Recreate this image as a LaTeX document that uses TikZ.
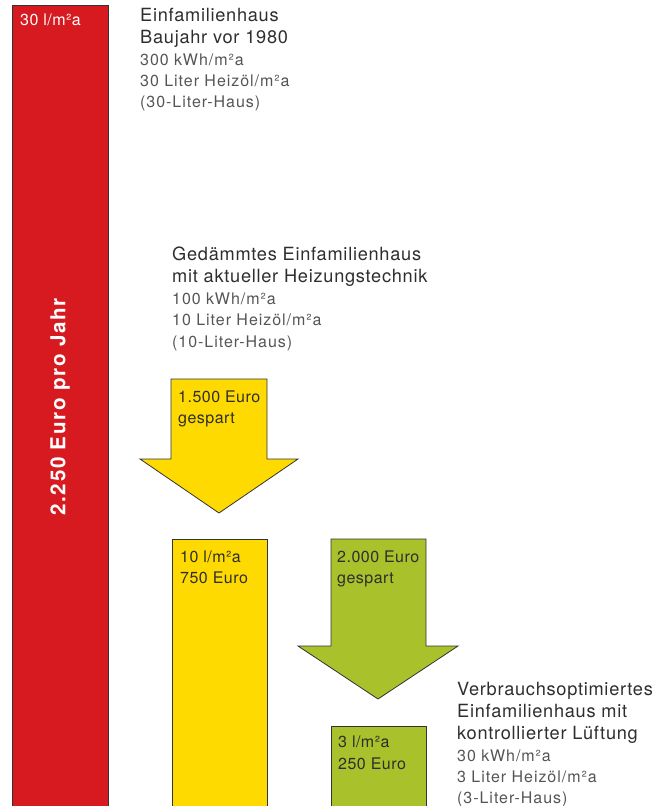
\documentclass[tikz,border=0pt]{standalone}
\usepackage{fontspec}
\setmainfont{TeX Gyre Heros}
\newfontfamily\titlefont[LetterSpace=4]{TeX Gyre Heros}
\newfontfamily\detailfont[LetterSpace=6]{TeX Gyre Heros}
\newfontfamily\labelfont[LetterSpace=3]{TeX Gyre Heros}
\newfontfamily\boldfont[LetterSpace=8]{TeX Gyre Heros}
\definecolor{barred}{HTML}{D71920}
\definecolor{baryellow}{HTML}{FFDA00}
\definecolor{bargreen}{HTML}{A9C22C}
\definecolor{edge}{HTML}{333333}
\definecolor{titlegray}{HTML}{2E2E2E}
\definecolor{detailgray}{HTML}{555555}
\tikzset{
  barbox/.style={draw=edge, line width=0.8pt},
  titletext/.style={anchor=base west, inner sep=0pt, text=titlegray, font=\titlefont\fontsize{18.2}{21}\selectfont},
  detailtext/.style={anchor=base west, inner sep=0pt, text=detailgray, font=\detailfont\fontsize{16}{19}\selectfont},
  labeltext/.style={anchor=base west, inner sep=0pt, text=titlegray, font=\labelfont\fontsize{16}{19}\selectfont},
}
\begin{document}
\begin{tikzpicture}[x=1pt,y=-1pt]
\useasboundingbox (0,0) rectangle (657,806);
\clip (0,0) rectangle (657,806);
% bars
\fill[barred] (12,5) rectangle (108,812);
\draw[barbox] (12,812) -- (12,5) -- (108,5) -- (108,812);
\fill[baryellow] (172,539) rectangle (267,812);
\draw[barbox] (172,812) -- (172,539) -- (267,539) -- (267,812);
\fill[bargreen] (331,726) rectangle (426,812);
\draw[barbox] (331,812) -- (331,726) -- (426,726) -- (426,812);
% arrows
\draw[barbox, fill=baryellow] (171,379) -- (267,379) -- (267,459) -- (298,459) -- (219,513) -- (140,459) -- (171,459) -- cycle;
\draw[barbox, fill=bargreen] (331,539) -- (426,539) -- (426,646) -- (458,646) -- (378,699) -- (298,646) -- (331,646) -- cycle;
% bar labels
\node[labeltext, text=white] (lred) at (20,25) {30 l/m²a};
\node[rotate=90, inner sep=0pt, text=white, font=\boldfont\bfseries\fontsize{20.6}{23}\selectfont] (lyear) at (60,407) {2.250 Euro pro Jahr};
\node[labeltext] (ly1) at (178,402) {1.500 Euro};
\node[labeltext] (ly2) at (178,423) {gespart};
\node[labeltext] (lb1) at (180,562) {10 l/m²a};
\node[labeltext] (lb2) at (180,583) {750 Euro};
\node[labeltext] (lg1) at (337,562) {2.000 Euro};
\node[labeltext] (lg2) at (337,583) {gespart};
\node[labeltext] (lc1) at (338,747) {3 l/m²a};
\node[labeltext] (lc2) at (338,769) {250 Euro};
% block 1
\node[titletext] (a1) at (140,21) {Einfamilienhaus};
\node[titletext] (a2) at (140,43) {Baujahr vor 1980};
\node[detailtext] (a3) at (140,65) {300 kWh/m²a};
\node[detailtext] (a4) at (140,86) {30 Liter Heizöl/m²a};
\node[detailtext] (a5) at (140,107) {(30-Liter-Haus)};
% block 2
\node[titletext] (b1) at (172,260) {Gedämmtes Einfamilienhaus};
\node[titletext] (b2) at (172,282) {mit aktueller Heizungstechnik};
\node[detailtext] (b3) at (172,304) {100 kWh/m²a};
\node[detailtext] (b4) at (172,325) {10 Liter Heizöl/m²a};
\node[detailtext] (b5) at (172,347) {(10-Liter-Haus)};
% block 3
\node[titletext] (c1) at (457,695) {Verbrauchsoptimiertes};
\node[titletext] (c2) at (457,717) {Einfamilienhaus mit};
\node[titletext] (c3) at (457,739) {kontrollierter Lüftung};
\node[detailtext] (c4) at (457,761) {30 kWh/m²a};
\node[detailtext] (c5) at (457,782) {3 Liter Heizöl/m²a};
\node[detailtext] (c6) at (457,803) {(3-Liter-Haus)};
\end{tikzpicture}
\end{document}
